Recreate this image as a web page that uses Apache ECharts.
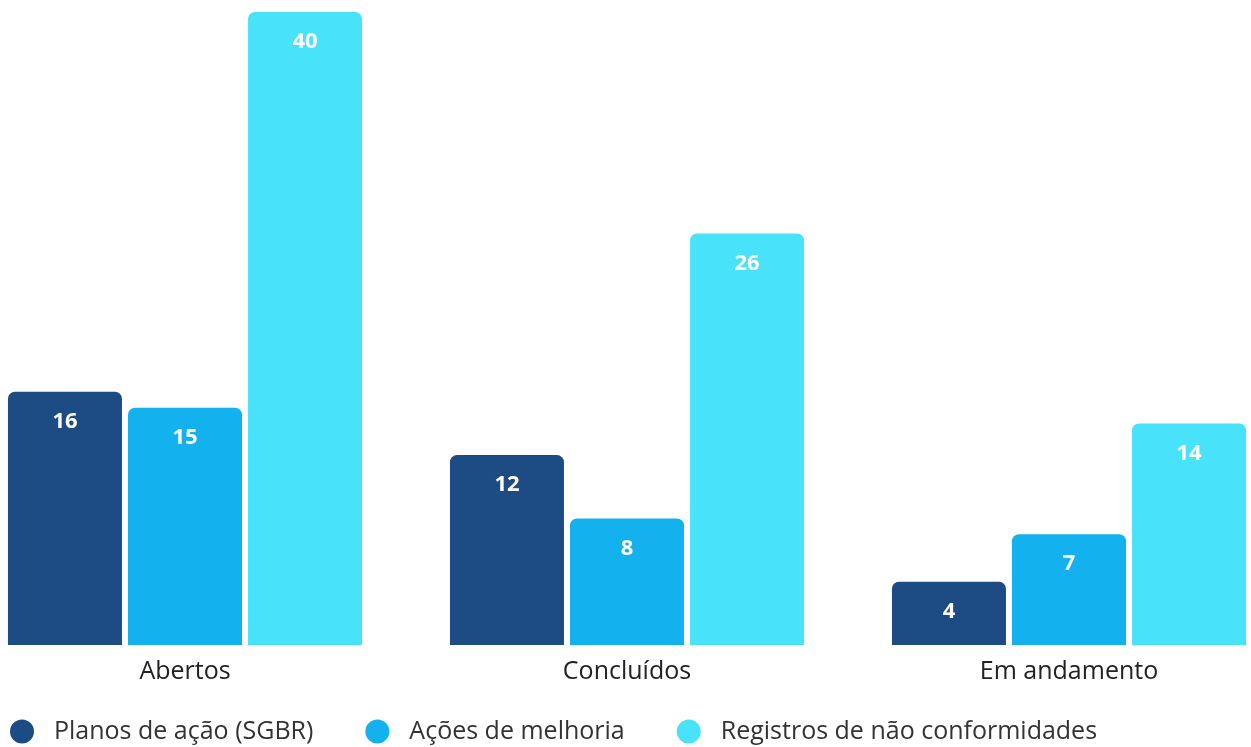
<!DOCTYPE html>
<html><head><meta charset="utf-8">
<script src="https://cdn.jsdelivr.net/npm/echarts@6/dist/echarts.min.js"></script>
<style>html,body{margin:0;padding:0;background:#fff;overflow:hidden}#c{position:absolute;left:-36px;top:0;width:1326px;height:747px}</style>
</head><body><div id="c"></div>
<script>
const categories = ['Abertos', 'Concluídos', 'Em andamento'];
const seriesNames = ['Planos de ação (SGBR)', 'Ações de melhoria', 'Registros de não conformidades'];
const planos = [16, 12, 4];
const acoes = [15, 8, 7];
const registros = [40, 26, 14];
const colors = ['#1d4b84', '#14b1ef', '#48e3fb'];
const values = [planos, acoes, registros];
const FONT = '"Open Sans", sans-serif';

const chart = echarts.init(document.getElementById('c'));
chart.setOption({
  animation: false,
  grid: { left: 0, right: 0, top: 12, bottom: 102, containLabel: false },
  xAxis: {
    type: 'category', data: categories,
    axisLine: { show: false }, axisTick: { show: false },
    axisLabel: { color: '#222', fontSize: 25, fontFamily: FONT, margin: 14 }
  },
  yAxis: { type: 'value', min: 0, max: 40, show: false, splitLine: { show: false } },
  legend: {
    left: 46, top: 719, padding: 0, itemWidth: 24, itemHeight: 24, itemGap: 52, icon: 'circle',
    textStyle: { color: '#333', fontSize: 25, fontFamily: FONT, padding: [0, 0, 0, 15] },
    data: seriesNames
  },
  series: seriesNames.map((n, i) => ({
    name: n, type: 'bar', data: values[i], barWidth: 114, barGap: '5.3%',
    itemStyle: { color: colors[i], borderRadius: [7, 7, 0, 0] },
    label: { show: true, position: 'insideTop', distance: 19, color: '#fff',
      fontSize: 22, fontWeight: 'bold', fontFamily: FONT }
  }))
});
</script></body></html>
